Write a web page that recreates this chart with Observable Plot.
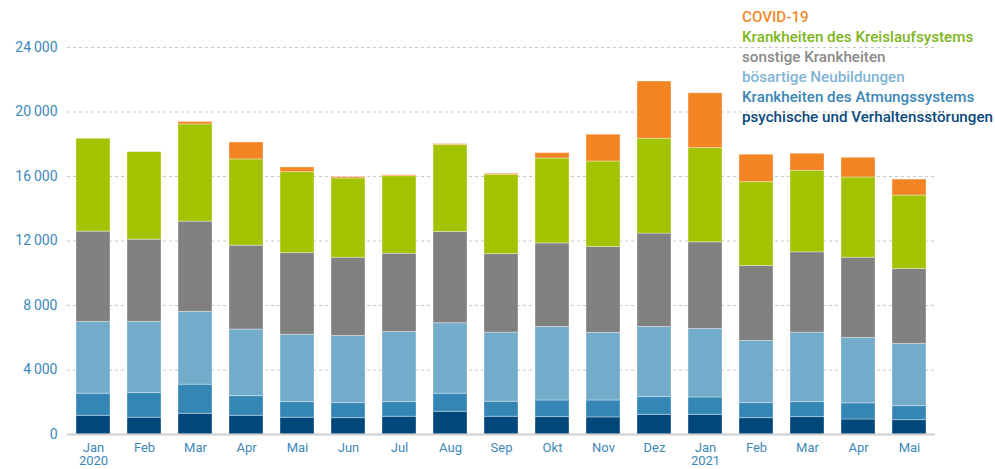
<!DOCTYPE html>
<html>
<head>
<meta charset="utf-8">
<script src="https://cdn.jsdelivr.net/npm/d3@7"></script>
<script src="https://cdn.jsdelivr.net/npm/@observablehq/plot@0.6"></script>
<style>
  html, body { margin: 0; padding: 0; background: #fff; }
  #wrap { position: relative; width: 995px; height: 469px; font-family: Roboto, "Open Sans", sans-serif; }
  #legend { position: absolute; left: 742px; top: 7px; font-size: 15.2px; font-weight: 500; line-height: 20px; white-space: nowrap; }
</style>
</head>
<body>
<div id="wrap"><div id="chart"></div><div id="legend"></div></div>
<script>
// Categories (unique month keys) and their tick labels
const months = ["Jan 2020","Feb 2020","Mar 2020","Apr 2020","Mai 2020","Jun 2020","Jul 2020","Aug 2020","Sep 2020","Okt 2020","Nov 2020","Dez 2020","Jan 2021","Feb 2021","Mar 2021","Apr 2021","Mai 2021"];
const tickLabels = ["Jan\n2020","Feb","Mar","Apr","Mai","Jun","Jul","Aug","Sep","Okt","Nov","Dez","Jan\n2021","Feb","Mar","Apr","Mai"];

// Series values (stack order bottom -> top)
const psychische   = [1160,1040,1285,1160,1040,1015,1100,1410,1100,1080,1060,1220,1220,1015,1080, 930, 890];
const atmung       = [1370,1530,1805,1220, 970, 935, 910,1120, 930,1030,1050,1100,1080, 935, 930,1000, 870];
const neubildungen = [4450,4410,4520,4130,4170,4160,4350,4370,4290,4560,4190,4350,4250,3850,4310,4060,3860];
const sonstige     = [5600,5100,5590,5200,5070,4850,4850,5660,4870,5180,5330,5790,5370,4650,4980,4970,4640];
const kreislauf    = [5760,5430,6030,5350,5020,4920,4810,5390,4910,5270,5300,5880,5840,5200,5050,4980,4560];
const covid        = [   0,   0, 150,1050, 290,  80,  60,  60,  70, 330,1660,3550,3400,1700,1060,1220, 990];

const seriesNames = ["psychische und Verhaltensstörungen","Krankheiten des Atmungssystems","bösartige Neubildungen","sonstige Krankheiten","Krankheiten des Kreislaufsystems","COVID-19"];
const seriesValues = [psychische, atmung, neubildungen, sonstige, kreislauf, covid];
const fillColors = ["#00477b","#3486b4","#73abcb","#808080","#a2c300","#f38423"];
const legendColors = ["#0a4a7c","#3a86b5","#80b4d4","#8a8a8a","#7fb51c","#f28a2e"];

const yTicks = [0,4000,8000,12000,16000,20000,24000];

const data = [];
seriesNames.forEach((s, si) => months.forEach((m, mi) => data.push({month: m, series: s, value: seriesValues[si][mi]})));
const labelOf = new Map(months.map((m, i) => [m, tickLabels[i]]));
const fmt = d => d === 0 ? "0" : d3.format(",")(d).replace(",", "\u2009");
const axisBlue = "#3c88b8";

const chart = Plot.plot({
  width: 995,
  height: 469,
  marginLeft: 67,
  marginRight: 60,
  marginTop: 47,
  marginBottom: 35,
  style: {fontFamily: "Roboto, 'Open Sans', sans-serif", background: "white"},
  x: {domain: months, paddingInner: 0.33, paddingOuter: 0.165, label: null},
  y: {domain: [0, 24000], label: null},
  color: {domain: seriesNames, range: fillColors},
  marks: [
    Plot.ruleY(yTicks.filter(d => d > 0), {stroke: "#c8c8c8", strokeDasharray: "3,3"}),
    Plot.barY(data, {x: "month", y: "value", fill: "series", order: seriesNames, stroke: "white", strokeOpacity: 0.35, strokeWidth: 1}),
    Plot.ruleY([0], {stroke: "#d0d0d0", strokeWidth: 2}),
    Plot.axisY({ticks: yTicks, tickSize: 0, tickPadding: 10, tickFormat: fmt, fill: axisBlue, fontSize: 14, label: null}),
    Plot.axisX({tickSize: 0, tickPadding: 8, tickFormat: d => labelOf.get(d), fill: axisBlue, fontSize: 13, lineHeight: 1.02, label: null})
  ]
});
document.getElementById("chart").appendChild(chart);

const legend = document.getElementById("legend");
for (let i = seriesNames.length - 1; i >= 0; i--) {
  const div = document.createElement("div");
  div.textContent = seriesNames[i];
  div.style.color = legendColors[i];
  legend.appendChild(div);
}
</script>
</body>
</html>
